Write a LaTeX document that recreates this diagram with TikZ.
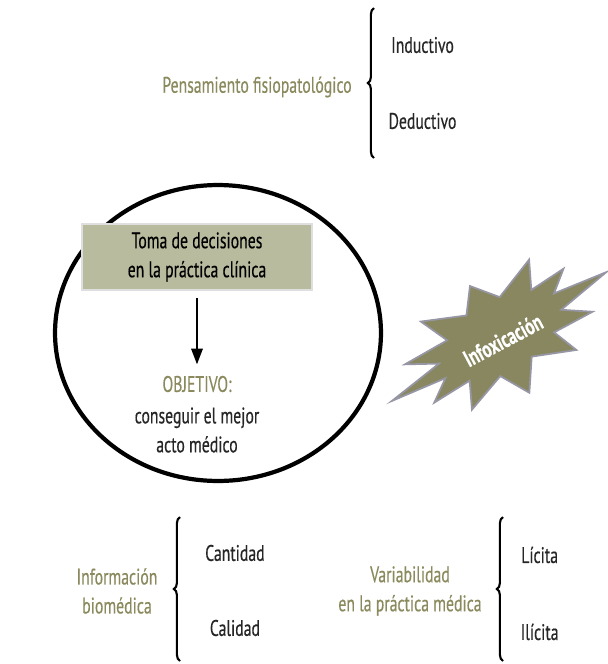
\documentclass[tikz,border=0pt]{standalone}
\usepackage{fontspec}
\setmainfont[FakeStretch=0.7, FakeBold=0.4]{PT Sans}
\usetikzlibrary{arrows.meta, positioning, decorations.pathreplacing, shapes.geometric}
\definecolor{oliva}{RGB}{138,138,94}
\definecolor{cajaoliva}{RGB}{185,187,158}
\definecolor{estrella}{RGB}{136,135,95}
\definecolor{bordegris}{RGB}{150,150,165}

\begin{document}
\begin{tikzpicture}[x=0.02cm, y=-0.02cm, on grid,
	font=\fontsize{12.8}{16.5}\selectfont,
	tema/.style = {text=oliva, align=center},
	hoja/.style = {text=black!85},
	llave/.style = {decorate, decoration={brace, amplitude=3.5pt}, line width=1.2pt},
	caja/.style = {fill=cajaoliva, draw=gray!25, line width=1pt, align=center, minimum width=4.6cm, minimum height=1.32cm},
	flecha/.style = {-{Triangle[length=9pt, width=6.5pt]}, line width=1.2pt}]
	\useasboundingbox (0,0) rectangle (608,664);

	% pensamiento fisiopatologico
	\node[tema] (pensar) at (257,87) {Pensamiento fisiopatológico};
	\node[hoja, anchor=west] (induc) at (385,45) {Inductivo};
	\node[hoja] (deduc) [below=1.52cm of induc] {Deductivo};
	\draw[llave] (374,158) -- (374,8);

	% elipse central
	\node[draw, ellipse, line width=2.4pt, minimum width=6.52cm, minimum height=5.92cm] (elipse) at (218,333) {};
	\node[caja] (decision) at (197,257) {Toma de decisiones\\en la práctica clínica};
	\node[tema] (objetivo) at (197,384) {OBJETIVO:};
	\node[align=center, text=black!85] (meta) [below=0.92cm of objetivo] {conseguir el mejor\\acto médico};
	\draw[flecha, shorten <=4pt, shorten >=3pt] (decision) -- (objetivo);

	% estrella
	\begin{scope}[shift={(500,336)}, rotate=31, yscale=0.55]
		\draw[fill=estrella, draw=bordegris, line width=1pt] (0:124)
		\foreach \a/\r in {14/68, 28/104, 43/66, 58/110, 75/64, 92/116, 108/66, 125/108, 140/64, 155/100, 168/70,
			180/126, 192/68, 205/106, 222/64, 238/114, 254/66, 270/106, 288/64, 305/112, 320/66, 333/100, 347/70}
		{ -- (\a:\r) } -- cycle;
	\end{scope}
	\node[rotate=28, text=white, font=\fontsize{13.5}{14}\selectfont\bfseries] (infox) at (503,340) {Infoxicación};

	% informacion biomedica
	\node[tema] (info) at (117,591) {Información\\biomédica};
	\node[hoja, anchor=west] (cant) at (199,553) {Cantidad};
	\node[hoja] (cali) [below=1.5cm of cant] {Calidad};
	\draw[llave] (180,661) -- (180,517);

	% variabilidad
	\node[tema] (varia) at (410,591) {Variabilidad\\en la práctica médica};
	\node[hoja, anchor=west] (licita) at (515,555) {Lícita};
	\node[hoja] (ilicita) [below=1.54cm of licita] {Ilícita};
	\draw[llave] (503,661) -- (503,517);
\end{tikzpicture}
\end{document}
